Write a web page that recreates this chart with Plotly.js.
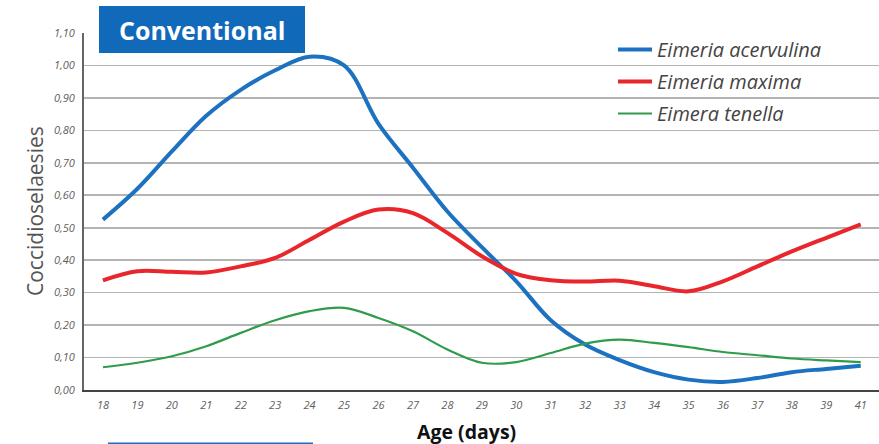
<!DOCTYPE html>
<html>
<head>
<meta charset="utf-8">
<script src="https://cdn.plot.ly/plotly-3.0.1.min.js"></script>
<style>html,body{margin:0;padding:0;background:#fff}#chart{width:879px;height:444px}</style>
</head>
<body>
<div id="chart"></div>
<script>
const ages = ['18','19','20','21','22','23','24','25','26','27','28','29','30','31','32','33','34','35','36','37','38','39','41'];
const acervulina = [0.525,0.62,0.735,0.845,0.925,0.985,1.027,1.0,0.82,0.685,0.55,0.44,0.335,0.215,0.14,0.092,0.055,0.032,0.025,0.037,0.055,0.065,0.075];
const maxima = [0.338,0.366,0.364,0.362,0.381,0.407,0.463,0.519,0.556,0.545,0.484,0.412,0.358,0.338,0.334,0.337,0.32,0.304,0.335,0.381,0.427,0.469,0.51];
const tenella = [0.07,0.084,0.104,0.135,0.176,0.215,0.243,0.253,0.222,0.181,0.125,0.084,0.086,0.114,0.143,0.155,0.145,0.132,0.117,0.107,0.097,0.091,0.086];
const seriesNames = ['Eimeria acervulina','Eimeria maxima','Eimera tenella'];
const yTicks = [0,0.1,0.2,0.3,0.4,0.5,0.6,0.7,0.8,0.9,1.0,1.1];

const W = 879, H = 444, L = 84, R = 0, T = 33, B = 54;
const pw = W - L - R, ph = H - T - B;
const px = x => (x - L) / pw;
const py = y => (H - B - y) / ph;

const mk = (y, name, color, width, g) => ({
  x: ages, y: y, name: name, type: 'scatter', mode: 'lines',
  line: {color: color, width: width, shape: 'spline', smoothing: 1},
  legendgroup: g, hoverinfo: 'skip'
});

const data = [
  mk(acervulina, seriesNames[0], '#1c72c0', 4, 'a'),
  mk(maxima, seriesNames[1], '#e8262b', 4, 'b'),
  mk(tenella, seriesNames[2], '#2f9c4b', 2.2, 'c')
];

const tickFont = {family: 'Open Sans, sans-serif', size: 11, color: '#5e5e5e', style: 'italic'};

const layout = {
  width: W, height: H,
  margin: {l: L, r: R, t: T, b: B},
  paper_bgcolor: '#fff', plot_bgcolor: '#fff',
  separators: ',.',
  font: {family: 'Open Sans, sans-serif', color: '#555'},
  showlegend: true,
  legend: {
    x: px(613), y: py(30), xanchor: 'left', yanchor: 'top',
    bgcolor: 'rgba(0,0,0,0)', itemwidth: 34, tracegroupgap: 3,
    font: {family: 'Open Sans, sans-serif', size: 20, color: '#444', style: 'italic'}
  },
  xaxis: {
    type: 'category', range: [-0.55, 22.53],
    showgrid: false, zeroline: false,
    showline: true, linecolor: '#444', linewidth: 2,
    ticks: '', ticklabelstandoff: 4,
    tickfont: tickFont,
    fixedrange: true
  },
  yaxis: {
    range: [0, 1.1], tickvals: yTicks, tickformat: '.2f',
    showgrid: true, gridcolor: '#b4b4b4', gridwidth: 1.6,
    zeroline: false, showline: true, linecolor: '#666', linewidth: 2,
    ticks: '', ticklabelstandoff: 5,
    tickfont: tickFont,
    fixedrange: true
  },
  shapes: [
    {type: 'rect', xref: 'paper', yref: 'paper', x0: px(99), x1: px(305), y0: py(53), y1: py(6),
     fillcolor: '#1169b9', line: {width: 0}, layer: 'above'},
    {type: 'line', xref: 'paper', yref: 'paper', x0: px(108), x1: px(313), y0: py(443.5), y1: py(443.5),
     line: {color: '#1a6fbf', width: 2}}
  ],
  annotations: [
    {text: '<b>Conventional</b>', xref: 'paper', yref: 'paper', x: px(202), y: py(30),
     xanchor: 'center', yanchor: 'middle', showarrow: false,
     font: {family: 'Open Sans, sans-serif', size: 25, color: '#fff'}},
    {text: 'Coccidioselaesies', xref: 'paper', yref: 'paper', x: px(35), y: py(211),
     xanchor: 'center', yanchor: 'middle', showarrow: false, textangle: -90,
     font: {family: 'Open Sans, sans-serif', size: 21, color: '#555'}},
    {text: '<b>Age (days)</b>', xref: 'paper', yref: 'paper', x: px(466), y: py(431),
     xanchor: 'center', yanchor: 'middle', showarrow: false,
     font: {family: 'Open Sans, sans-serif', size: 19.5, color: '#111'}}
  ]
};

Plotly.newPlot('chart', data, layout, {staticPlot: true, displayModeBar: false});
</script>
</body>
</html>
